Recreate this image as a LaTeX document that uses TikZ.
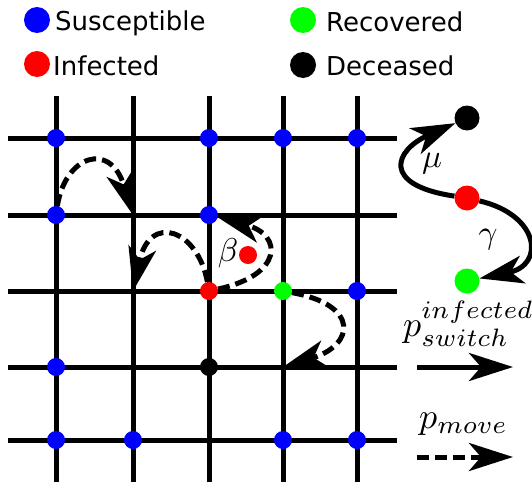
\RequirePackage{fix-cm}
\documentclass[tikz,border=0pt]{standalone}
\usepackage{graphicx}
\usepackage{fontspec}
\newfontfamily\legendfont{DejaVu Sans}
\usetikzlibrary{arrows.meta}
\newcommand{\biglbl}[1]{\scalebox{3.6}{$#1$}}
\newcommand{\greeklbl}[1]{\scalebox{3.3}{$#1$}}
\begin{document}
\begin{tikzpicture}[x=1pt,y=-1pt,
  gridline/.style={line width=5pt},
  dot/.style={circle,inner sep=0pt,minimum size=18pt},
  bigdot/.style={circle,inner sep=0pt,minimum size=25pt},
  legdot/.style={circle,inner sep=0pt,minimum size=26pt},
  tipstyle/.style={-{Stealth[length=44pt,width=28pt,inset=12pt]}},
  movearrow/.style={line width=5pt,dash pattern=on 12pt off 6pt,tipstyle},
  switcharrow/.style={line width=5pt,tipstyle},
  legend/.style={font=\legendfont\fontsize{26}{31}\selectfont,anchor=base west,inner sep=0pt},
  mathlbl/.style={inner sep=0pt}]
\useasboundingbox (0,0) rectangle (532,482);
% grid coordinates
\foreach \c/\x in {1/56,2/133,3/209,4/283,5/357}{
  \foreach \r/\y in {1/138,2/215,3/291,4/367,5/440}{
    \coordinate (g\c\r) at (\x,\y);
  }
}
% grid lines
\foreach \x in {56,133,209,283,357}{
  \draw[gridline] (\x,96) -- (\x,482);
}
\foreach \y in {138,215,291,367,440}{
  \draw[gridline] (8,\y) -- (397,\y);
}
% legend
\node[legdot,fill=blue] (lS) at (37,20) {};
\node[legend] (tS) at (55,30) {Susceptible};
\node[legdot,fill=red] (lI) at (37,64) {};
\node[legend] (tI) at (53,75) {Infected};
\node[legdot,fill=green] (lR) at (303,20) {};
\node[legend] (tR) at (326,31) {Recovered};
\node[legdot,fill=black] (lD) at (303,65) {};
\node[legend] (tD) at (326,75) {Deceased};
% grid dots
\node[dot,fill=blue] (b11) at (g11) {};
\node[dot,fill=blue] (b31) at (g31) {};
\node[dot,fill=blue] (b41) at (g41) {};
\node[dot,fill=blue] (b51) at (g51) {};
\node[dot,fill=blue] (b12) at (g12) {};
\node[dot,fill=blue] (b32) at (g32) {};
\node[dot,fill=red] (i33) at (g33) {};
\node[dot,fill=green] (r43) at (g43) {};
\node[dot,fill=blue] (b53) at (g53) {};
\node[dot,fill=blue] (b14) at (g14) {};
\node[dot,fill=black] (d34) at (g34) {};
\node[dot,fill=blue] (b15) at (g15) {};
\node[dot,fill=blue] (b25) at (g25) {};
\node[dot,fill=blue] (b45) at (g45) {};
\node[dot,fill=blue] (b55) at (g55) {};
% infection source
\node[dot,fill=red] (src) at (248,255) {};
\node[mathlbl] (beta) at (228,253) {\greeklbl{\beta}};
% movement arrows
\draw[movearrow] (b12) .. controls (65,156) and (110,140) .. (g22);
\draw[movearrow] (i33) .. controls (198,230) and (150,212) .. (g23);
\draw[movearrow] (i33) .. controls (283,275) and (283,235) .. (b32);
\draw[movearrow] (r43) .. controls (360,305) and (355,345) .. (g44);
% state transitions
\node[bigdot,fill=black] (rD) at (467,118) {};
\node[bigdot,fill=red] (rI) at (467,198) {};
\node[bigdot,fill=green] (rR) at (467,281) {};
\draw[switcharrow] (rI) .. controls (380,185) and (395,150) .. (rD);
\draw[switcharrow] (rI) .. controls (540,215) and (545,265) .. (rR);
\node[mathlbl] (mu) at (432,164) {\greeklbl{\mu}};
\node[mathlbl] (gamma) at (488,240) {\greeklbl{\gamma}};
% key
\node[mathlbl,anchor=base west] (psw) at (403,336) {\biglbl{p_{switch}^{infected}}};
\coordinate (sw1) at (417,367);
\coordinate (sw2) at (513,367);
\draw[switcharrow] (sw1) -- (sw2);
\node[mathlbl,anchor=base west] (pmv) at (419,428) {\biglbl{p_{move}}};
\coordinate (mv1) at (417,457);
\coordinate (mv2) at (513,457);
\draw[movearrow] (mv1) -- (mv2);
\end{tikzpicture}
\end{document}
